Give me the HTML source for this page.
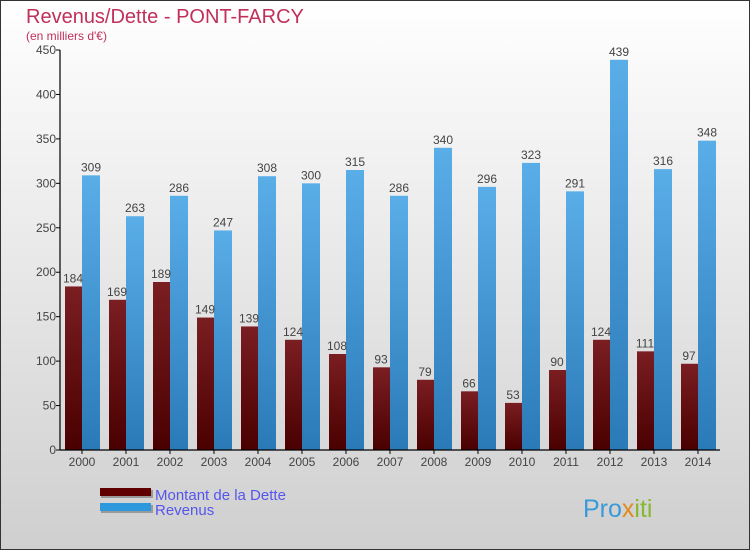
<!DOCTYPE html>
<html><head><meta charset="utf-8"><style>
body{margin:0}
#c{width:750px;height:550px;position:relative;font-family:"Liberation Sans","DejaVu Sans",sans-serif}
</style></head><body>
<div id="c">
<svg id="s" width="750" height="550" xmlns="http://www.w3.org/2000/svg">
<defs>
<linearGradient id="bg" x1="0" y1="0" x2="0" y2="1"><stop offset="0" stop-color="#ffffff"/><stop offset="1" stop-color="#cfcfcf"/></linearGradient>
<linearGradient id="gd" x1="0" y1="0" x2="0" y2="1"><stop offset="0" stop-color="#7a1e22"/><stop offset="1" stop-color="#4a0000"/></linearGradient>
<linearGradient id="gr" x1="0" y1="0" x2="0" y2="1"><stop offset="0" stop-color="#5aaee8"/><stop offset="1" stop-color="#2a7ab8"/></linearGradient>
</defs>
<rect x="0.5" y="0.5" width="749" height="549" fill="url(#bg)" stroke="#333"/>
<text x="26" y="23" font-size="20" fill="#c0305a">Revenus/Dette - PONT-FARCY</text>
<text x="26" y="40" font-size="12" fill="#c0305a">(en milliers d'€)</text>
<g id="plot"></g>
<rect x="101" y="490" width="52" height="8" fill="#999"/>
<rect x="100" y="488" width="51" height="8" fill="#600000"/>
<rect x="101" y="505" width="52" height="8" fill="#999"/>
<rect x="100" y="503" width="51" height="8" fill="#2e98dc"/>
<text x="155" y="500" font-size="15" fill="#5555ee">Montant de la Dette</text>
<text x="155" y="515" font-size="15" fill="#5555ee">Revenus</text>
<text x="583" y="517" font-size="25" fill="#3a9ad8">Pro<tspan fill="#e08a20">x</tspan><tspan fill="#88b830">iti</tspan></text>
</svg>
</div>
<script>
const years=["2000","2001","2002","2003","2004","2005","2006","2007","2008","2009","2010","2011","2012","2013","2014"];
const dette=[184,169,189,149,139,124,108,93,79,66,53,90,124,111,97];
const revenus=[309,263,286,247,308,300,315,286,340,296,323,291,439,316,348];
const yTicks=[0,50,100,150,200,250,300,350,400,450];
const NS="http://www.w3.org/2000/svg";
const g=document.getElementById('plot');
const y0=450,yScale=400/450,xStart=60,step=44;
function Y(v){return y0-v*yScale;}
function X(i){return xStart+5+i*step;}
function mk(t,a,txt){const e=document.createElementNS(NS,t);for(const k in a)e.setAttribute(k,a[k]);if(txt!==undefined)e.textContent=txt;g.appendChild(e);return e;}
years.forEach((yr,i)=>{
  const x=X(i);
  let r=mk('rect',{x:x,y:Y(dette[i]),width:17,height:dette[i]*yScale,fill:'url(#gd)'});
  
  
  r=mk('rect',{x:x+17,y:Y(revenus[i]),width:18,height:revenus[i]*yScale,fill:'url(#gr)'});
  
  
  let t=mk('text',{x:x+8,y:Y(dette[i])-4,'font-size':12,fill:'#444','text-anchor':'middle'},String(dette[i]));
  
  
  t=mk('text',{x:x+26,y:Y(revenus[i])-4,'font-size':12,fill:'#444','text-anchor':'middle'},String(revenus[i]));
  
  
  const tk=mk('line',{x1:x+17,x2:x+17,y1:y0,y2:y0+4,stroke:'#000'});
  
  
  t=mk('text',{x:x+17,y:466,'font-size':12,fill:'#444','text-anchor':'middle'},yr);
  
  
});
yTicks.forEach(v=>{
  const l=mk('line',{x1:xStart-4,x2:xStart,y1:Y(v),y2:Y(v),stroke:'#000'});
  
  
  const t=mk('text',{x:xStart-4,y:Y(v)+4,'font-size':12,fill:'#444','text-anchor':'end'},String(v));
  
  
});
let ax=mk('line',{x1:xStart,x2:xStart,y1:Y(450),y2:y0,stroke:'#000','stroke-width':1.2});


ax=mk('line',{x1:xStart,x2:720,y1:y0,y2:y0,stroke:'#000','stroke-width':1.2});


</script>
</body></html>
